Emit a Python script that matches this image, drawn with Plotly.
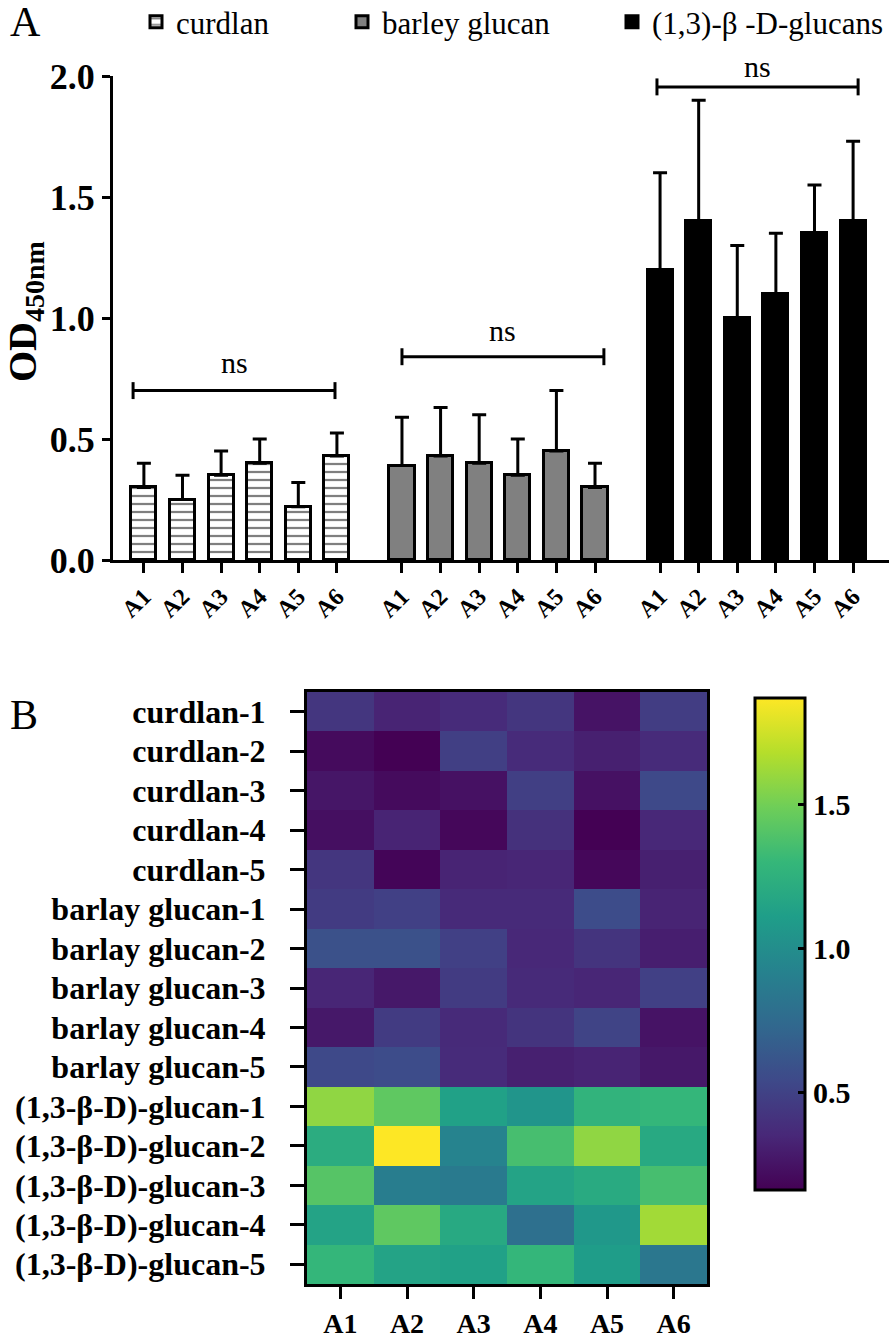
import plotly.graph_objects as go

# ---------------- data ----------------
wells = ["A1", "A2", "A3", "A4", "A5", "A6"]
group_names = ["curdlan", "barley glucan", "(1,3)-β -D-glucans"]

curdlan_mean = [0.30, 0.25, 0.35, 0.40, 0.22, 0.43]
curdlan_sd = [0.10, 0.10, 0.10, 0.10, 0.10, 0.095]
barley_mean = [0.39, 0.43, 0.40, 0.35, 0.45, 0.30]
barley_sd = [0.20, 0.20, 0.20, 0.15, 0.25, 0.10]
glucan_mean = [1.20, 1.40, 1.00, 1.10, 1.35, 1.40]
glucan_sd = [0.40, 0.50, 0.30, 0.25, 0.20, 0.33]

# significance brackets (one per group)
bracket_level = [0.70, 0.84, 1.955]
bracket_labels = ["ns", "ns", "ns"]

heat_rows = [
    "curdlan-1", "curdlan-2", "curdlan-3", "curdlan-4", "curdlan-5",
    "barlay glucan-1", "barlay glucan-2", "barlay glucan-3", "barlay glucan-4", "barlay glucan-5",
    "(1,3-β-D)-glucan-1", "(1,3-β-D)-glucan-2", "(1,3-β-D)-glucan-3",
    "(1,3-β-D)-glucan-4", "(1,3-β-D)-glucan-5",
]
heat_values = [
    [0.43, 0.33, 0.37, 0.43, 0.25, 0.47],
    [0.21, 0.16, 0.48, 0.37, 0.31, 0.37],
    [0.26, 0.21, 0.24, 0.48, 0.24, 0.54],
    [0.23, 0.33, 0.19, 0.40, 0.16, 0.35],
    [0.43, 0.18, 0.33, 0.34, 0.19, 0.31],
    [0.46, 0.49, 0.36, 0.36, 0.56, 0.33],
    [0.59, 0.59, 0.49, 0.35, 0.42, 0.30],
    [0.34, 0.27, 0.46, 0.36, 0.34, 0.49],
    [0.27, 0.46, 0.36, 0.42, 0.51, 0.25],
    [0.54, 0.56, 0.37, 0.31, 0.33, 0.27],
    [1.58, 1.44, 1.13, 1.05, 1.27, 1.29],
    [1.22, 1.87, 0.93, 1.36, 1.58, 1.19],
    [1.41, 0.88, 0.86, 1.15, 1.20, 1.36],
    [1.15, 1.44, 1.19, 0.79, 1.07, 1.63],
    [1.29, 1.15, 1.13, 1.29, 1.10, 0.84],
]
heat_zmin, heat_zmax = 0.16, 1.87

# ---------------- layout constants ----------------
W, H = 896, 1340
SERIF = "Liberation Serif"
GROUP_STEP = 6.685
BAR_W = 0.65


def px_x(p):
    return p / W


def px_y(p):
    return 1 - p / H


def bold(size):
    return dict(family=SERIF, size=size, color="black", weight="bold")


fig = go.Figure()

means = [curdlan_mean, barley_mean, glucan_mean]
sds = [curdlan_sd, barley_sd, glucan_sd]
fills = ["white", "#808080", "black"]
legends = ["legend", "legend2", "legend3"]
positions = []
for g in range(3):
    xs = [g * GROUP_STEP + j for j in range(len(wells))]
    positions.append(xs)
    marker = dict(color=fills[g], line=dict(color="black", width=3))
    if g == 0:
        marker["pattern"] = dict(shape="-", fgcolor="black", bgcolor="white",
                                 size=8, solidity=0.28, fillmode="overlay")
    fig.add_trace(go.Bar(
        x=xs, y=means[g], width=BAR_W, name=group_names[g], marker=marker,
        legend=legends[g],
        error_y=dict(type="data", array=sds[g], arrayminus=[0] * len(wells),
                     symmetric=False, color="black", thickness=3, width=7),
        xaxis="x", yaxis="y",
    ))

fig.add_trace(go.Heatmap(
    z=heat_values, x=wells, y=heat_rows, colorscale="Viridis",
    zmin=heat_zmin, zmax=heat_zmax, xaxis="x2", yaxis="y2", showscale=True,
    xgap=0, ygap=0, showlegend=False,
    colorbar=dict(
        x=px_x(745), xanchor="left", xref="paper",
        y=px_y(944), yanchor="middle", yref="paper",
        lenmode="pixels", len=512, thickness=50,
        outlinewidth=3, outlinecolor="black",
        tickvals=[0.5, 1.0, 1.5], ticktext=["0.5", "1.0", "1.5"],
        ticks="inside", ticklen=8, tickwidth=3, tickcolor="black",
        tickfont=bold(30),
    ),
))

# significance brackets
bracket_offsets = [(-0.28, -0.05), (0.0, 0.23), (-0.08, 0.13)]
text_shift = [10, 8, 2]
shapes = []
annotations = []
for g in range(3):
    x0 = positions[g][0] + bracket_offsets[g][0]
    x1 = positions[g][-1] + bracket_offsets[g][1]
    yb = bracket_level[g]
    line = dict(color="black", width=3)
    shapes.append(dict(type="line", xref="x", yref="y", x0=x0, x1=x1, y0=yb, y1=yb, line=line))
    for xe in (x0, x1):
        shapes.append(dict(type="line", xref="x", yref="y", x0=xe, x1=xe,
                           y0=yb - 0.035, y1=yb + 0.035, line=line))
    annotations.append(dict(x=(x0 + x1) / 2, y=yb, xref="x", yref="y",
                            yanchor="bottom", yshift=text_shift[g],
                            text=bracket_labels[g], showarrow=False,
                            font=dict(family=SERIF, size=30, color="black")))

# panel labels and y title
annotations.append(dict(x=px_x(8), y=px_y(22), xref="paper", yref="paper", text="A",
                        showarrow=False, xanchor="left", yanchor="middle",
                        font=dict(family=SERIF, size=42, color="black")))
annotations.append(dict(x=px_x(8), y=px_y(715), xref="paper", yref="paper", text="B",
                        showarrow=False, xanchor="left", yanchor="middle",
                        font=dict(family=SERIF, size=42, color="black")))
annotations.append(dict(x=px_x(25), y=px_y(312), xref="paper", yref="paper",
                        text="OD<sub>450nm</sub>", textangle=-90, showarrow=False,
                        xanchor="center", yanchor="middle", font=bold(40)))

all_pos = [p for grp in positions for p in grp]
all_ticktext = wells * 3

legend_common = dict(orientation="h", yanchor="middle", y=px_y(22), xanchor="left",
                     font=dict(family=SERIF, size=31, color="black"),
                     bgcolor="rgba(0,0,0,0)", itemclick=False, itemdoubleclick=False)

fig.update_layout(
    width=W, height=H,
    margin=dict(l=0, r=0, t=0, b=0, autoexpand=False),
    paper_bgcolor="white", plot_bgcolor="white",
    showlegend=True,
    legend=dict(x=px_x(136), **legend_common),
    legend2=dict(x=px_x(342), **legend_common),
    legend3=dict(x=px_x(612), **legend_common),
    bargap=0,
    xaxis=dict(
        domain=[px_x(113), px_x(889)], range=[-0.8, 19.3], anchor="y",
        tickvals=all_pos, ticktext=all_ticktext, tickangle=-45,
        tickfont=bold(24), ticks="outside", ticklen=10, tickwidth=3, tickcolor="black",
        showline=True, linewidth=3, linecolor="black", showgrid=False, zeroline=False,
    ),
    yaxis=dict(
        domain=[px_y(560), px_y(76)], range=[0, 2.0], anchor="x",
        tickvals=[0, 0.5, 1.0, 1.5, 2.0], ticktext=["0.0", "0.5", "1.0", "1.5", "2.0"],
        tickfont=bold(36), ticks="outside", ticklen=8, tickwidth=3, tickcolor="black",
        showline=True, linewidth=3, linecolor="black", showgrid=False, zeroline=False,
    ),
    xaxis2=dict(
        domain=[px_x(307), px_x(707)], anchor="y2",
        tickmode="array", tickvals=wells, ticktext=wells,
        tickfont=bold(28), ticks="outside", ticklen=12, tickwidth=3, tickcolor="black",
        showline=True, linewidth=3, linecolor="black", mirror=True,
        showgrid=False, zeroline=False,
    ),
    yaxis2=dict(
        domain=[px_y(1284), px_y(692)], anchor="x2", autorange="reversed",
        tickmode="array", tickvals=heat_rows, ticktext=heat_rows,
        tickfont=bold(32), ticks="outside", ticklen=14, tickwidth=3, tickcolor="black",
        ticklabelstandoff=18,
        showline=True, linewidth=3, linecolor="black", mirror=True,
        showgrid=False, zeroline=False,
    ),
    shapes=shapes,
    annotations=annotations,
)

fig.write_html("out.html", config={"displayModeBar": False},
               post_script="document.body.style.margin='0px';document.body.style.overflow='hidden';")
